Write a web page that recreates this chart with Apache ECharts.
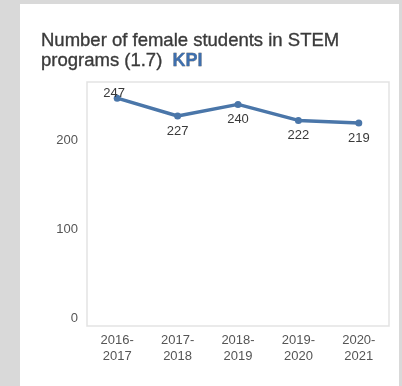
<!DOCTYPE html>
<html>
<head>
<meta charset="utf-8">
<script src="https://cdn.jsdelivr.net/npm/echarts@6/dist/echarts.min.js"></script>
<style>
  html, body { margin: 0; padding: 0; background: #d9d9d9; }
  #card { position: absolute; left: 20px; top: 4px; width: 379px; height: 382px; background: #ffffff; }
  #chart { position: absolute; left: 0; top: 0; width: 402px; height: 386px; }
</style>
</head>
<body>
<div id="card"></div>
<div id="chart"></div>
<script>
// School years and the number of female students enrolled in STEM programs
const years = ['2016-\n2017', '2017-\n2018', '2018-\n2019', '2019-\n2020', '2020-\n2021'];
const femaleStem = [247, 227, 240, 222, 219];
const yTicks = [0, 100, 200, 300];

const chart = echarts.init(document.getElementById('chart'), null, { renderer: 'canvas' });

const seriesData = femaleStem.map((v, i) => {
  if (i === 0) {
    return { value: v, label: { position: 'inside', offset: [-3, -5] } };
  }
  return { value: v, label: { position: 'bottom', distance: 5 } };
});

chart.setOption({
  backgroundColor: 'transparent',
  animation: false,
  title: {
    left: 41,
    top: 31,
    padding: 0,
    text: 'Number of female students in STEM\nprograms (1.7)  {kpi|KPI}',
    textStyle: {
      fontFamily: 'Liberation Sans',
      fontSize: 18.5,
      fontWeight: 'normal',
      color: '#3a3a3a',
      textBorderColor: '#3a3a3a',
      textBorderWidth: 0.35,
      lineHeight: 20,
      rich: {
        kpi: {
          fontFamily: 'Liberation Sans',
          fontSize: 18,
          fontWeight: 'bold',
          color: '#3e6fae',
          lineHeight: 20
        }
      }
    }
  },
  graphic: [{
    type: 'rect',
    shape: { x: 87, y: 82, width: 302, height: 244 },
    style: { fill: 'none', stroke: '#e3e3e3', lineWidth: 1.5 },
    silent: true,
    z: 0
  }],
  grid: { left: 87, right: 13, top: 51, bottom: 68 },
  xAxis: {
    type: 'category',
    data: years,
    boundaryGap: true,
    axisLine: { show: false },
    axisTick: { show: false },
    axisLabel: {
      margin: 14,
      fontFamily: 'Liberation Sans',
      fontSize: 13,
      lineHeight: 16,
      color: '#555555'
    }
  },
  yAxis: {
    type: 'value',
    min: yTicks[0],
    max: yTicks[yTicks.length - 1],
    interval: 100,
    axisLine: { show: false },
    axisTick: { show: false },
    splitLine: { show: false },
    axisLabel: {
      margin: 9,
      showMaxLabel: false,
      fontFamily: 'Liberation Sans',
      fontSize: 13,
      color: '#555555'
    }
  },
  series: [{
    type: 'line',
    data: seriesData,
    symbol: 'circle',
    symbolSize: 7,
    lineStyle: { color: '#4a76a9', width: 3.5 },
    itemStyle: { color: '#4a76a9' },
    label: {
      show: true,
      fontFamily: 'Liberation Sans',
      fontSize: 13,
      color: '#3a3a3a'
    },
    z: 3
  }]
});
</script>
</body>
</html>
